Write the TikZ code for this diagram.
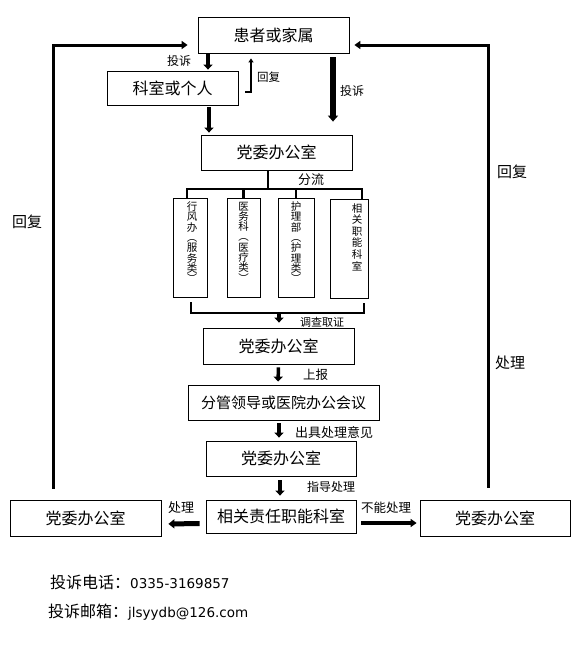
\documentclass[tikz,border=0pt]{standalone}
\usepackage{fontspec}
\setmainfont{Noto Sans CJK SC}
\newfontfamily\latinfont{DejaVu Sans}
\usetikzlibrary{arrows.meta,positioning}

\tikzset{
  box/.style={draw, line width=0.8pt, inner sep=0pt, minimum height=35pt,
    font=\fontsize{16}{18}\selectfont},
  vbox/.style={draw, line width=0.8pt, inner sep=0pt, minimum height=99pt},
  vtext/.style={anchor=north, align=center, inner sep=0pt,
    font=\fontsize{10.5}{10.3}\selectfont},
  lab/.style={anchor=west, inner sep=0pt, font=\fontsize{12.5}{14}\selectfont},
  arr/.style={line width=3.5pt, -{Triangle[width=9pt,length=5pt]}},
  bigarr/.style={line width=6pt, -{Triangle[width=10pt,length=6pt]}},
  loopline/.style={line width=3pt, -{Triangle[width=8pt,length=6pt]}},
  barline/.style={line width=2.5pt},
  ret/.style={line width=2pt, -{Triangle[width=5pt,length=4pt]}},
}

\begin{document}
\begin{tikzpicture}[x=1pt, y=-1pt]
\useasboundingbox (0,0) rectangle (579,648);

% ---- main chain of boxes ---------------------------------------------------
\node[box, minimum width=151pt, minimum height=36pt] (patient) at (273.5,35) {患者或家属};
\node[box, minimum width=131pt, minimum height=34pt] (dept) at (172.5,88) {科室或个人};
\node[box, minimum width=151pt] (office1) at (276.5,152.5) {党委办公室};
\node[box, minimum width=151pt, minimum height=36pt] (office2) at (278.5,346) {党委办公室};
\node[box, minimum width=191pt, font=\fontsize{15}{17}\selectfont] (leader) at (283.5,402.5)
  {分管领导或医院办公会议};
\node[box, minimum width=150pt] (office3) at (281,458.5) {党委办公室};
\node[box, minimum width=150pt, minimum height=33pt] (resp) at (281,516.5) {相关责任职能科室};
\node[box, minimum width=151pt, minimum height=36pt] (officeL) at (85.5,518) {党委办公室};
\node[box, minimum width=150pt, minimum height=36pt] (officeR) at (495,518) {党委办公室};

% ---- the four departments --------------------------------------------------
\node[vbox, minimum width=34pt] (v1) at (190,247.5) {};
\node[vbox, minimum width=33pt] (v2) at (243.5,247.5) {};
\node[vbox, minimum width=36pt] (v3) at (296,247.5) {};
\node[vbox, minimum width=38pt] (v4) at (349,249) {};
\node[vtext, yshift=-4pt, xshift=2pt] (t1) at (v1.north) {行\\风\\办\\︵\\服\\务\\类\\︶};
\node[vtext, yshift=-4pt] (t2) at (v2.north) {医\\务\\科\\︵\\医\\疗\\类\\︶};
\node[vtext, yshift=-4pt] (t3) at (v3.north) {护\\理\\部\\︵\\护\\理\\类\\︶};
\node[vtext, yshift=-4pt, xshift=8pt, font=\fontsize{10.5}{11.6}\selectfont] (t4) at (v4.north)
  {相\\关\\职\\能\\科\\室};

% ---- split and collect -----------------------------------------------------
\coordinate (split) at (268,189);
\coordinate (barL) at (187,189);
\coordinate (barR) at (362,189);
\draw[barline] (office1.south -| split) -- (split);
\draw[barline] (v1.north -| barL) |- (barR) -- (v4.north -| barR);
\foreach \n in {v2,v3}
  \draw[barline] (\n.north) -- (\n.north |- barL);
\node[lab, font=\fontsize{13}{15}\selectfont] (fenliu) at (298,180) {分流};

\coordinate (brL) at (191,313);
\coordinate (brR) at (364,313);
\coordinate (collect) at (279,313);
\draw[barline, shorten <=5pt, shorten >=4pt] (v1.south -| brL) |- (brR) -- (v4.south -| brR);
\draw[arr, shorten >=5pt] (collect) -- (collect |- office2.north);
\node[lab, font=\fontsize{11}{12}\selectfont] (diaocha) at (300,322) {调查取证};

% ---- top part --------------------------------------------------------------
\draw[arr, shorten >=1pt] ([xshift=-65.5pt]patient.south) -- ([xshift=35.5pt]dept.north);
\node[lab, font=\fontsize{12}{14}\selectfont] (ts1) at (167,61) {投诉};
\draw[ret] ([xshift=7pt,yshift=-4pt]dept.east) -| ([xshift=-22.5pt,yshift=-5pt]patient.south);
\node[lab, font=\fontsize{11.5}{13}\selectfont] (hf1) at (257,77) {回复};
\draw[bigarr, shorten <=4pt, shorten >=13pt] ([xshift=59.5pt]patient.south)
  -- ([xshift=56.5pt]office1.north);
\node[lab, font=\fontsize{12}{14}\selectfont] (ts2) at (340,91) {投诉};
\draw[arr, shorten <=2pt, shorten >=2pt] ([xshift=36.5pt]dept.south)
  -- ([xshift=-67.5pt]office1.north);

% ---- lower chain -----------------------------------------------------------
\draw[arr, shorten <=3pt, shorten >=3pt] (office2.south) -- ([xshift=-5.5pt]leader.north);
\node[lab] (shangbao) at (303,375) {上报};
\draw[arr, shorten <=3pt, shorten >=3pt] ([xshift=-4.5pt]leader.south) -- ([xshift=-2pt]office3.north);
\node[lab, font=\fontsize{13}{15}\selectfont] (chuju) at (295,433) {出具处理意见};
\draw[arr, shorten <=4pt, shorten >=4pt] ([xshift=-1pt]office3.south) -- ([xshift=-1pt]resp.north);
\node[lab, font=\fontsize{12}{14}\selectfont] (zhidao) at (307,487) {指导处理};

% ---- bottom row ------------------------------------------------------------
\draw[line width=5pt, -{Triangle[width=9pt,length=6pt]}, shorten <=6pt, shorten >=7pt]
  ([yshift=-7pt]resp.west) -- ([yshift=-6pt]officeL.east);
\node[lab, font=\fontsize{13}{15}\selectfont] (chuli1) at (168,508) {处理};
\draw[line width=3.5pt, -{Triangle[width=8pt,length=6pt]}, shorten <=5pt, shorten >=3pt]
  ([yshift=-6.5pt]resp.east) -- ([yshift=-5pt]officeR.west);
\node[lab] (buneng) at (361,508) {不能处理};

% ---- feedback loops --------------------------------------------------------
\draw[loopline, shorten <=11pt, shorten >=10pt] ([xshift=-32pt]officeL.north)
  |- ([yshift=-10pt]patient.west);
\node[lab, font=\fontsize{15}{17}\selectfont] (hfL) at (12,222) {回复};
\draw[loopline, shorten <=12pt, shorten >=5pt] ([xshift=-7pt]officeR.north)
  |- ([yshift=-10pt]patient.east);
\node[lab, font=\fontsize{15}{17}\selectfont] (hfR) at (497,172) {回复};
\node[lab, font=\fontsize{15}{17}\selectfont] (chuliR) at (495,363) {处理};

% ---- contact ---------------------------------------------------------------
\node[lab, font=\fontsize{16}{18}\selectfont] (phone) at (50,582)
  {投诉电话：{\latinfont\fontsize{13.5}{16}\selectfont 0335-3169857}};
\node[lab, font=\fontsize{16}{18}\selectfont] (mail) at (48,612)
  {投诉邮箱：{\latinfont\fontsize{13.5}{16}\selectfont jlsyydb@126.com}};
\end{tikzpicture}
\end{document}
